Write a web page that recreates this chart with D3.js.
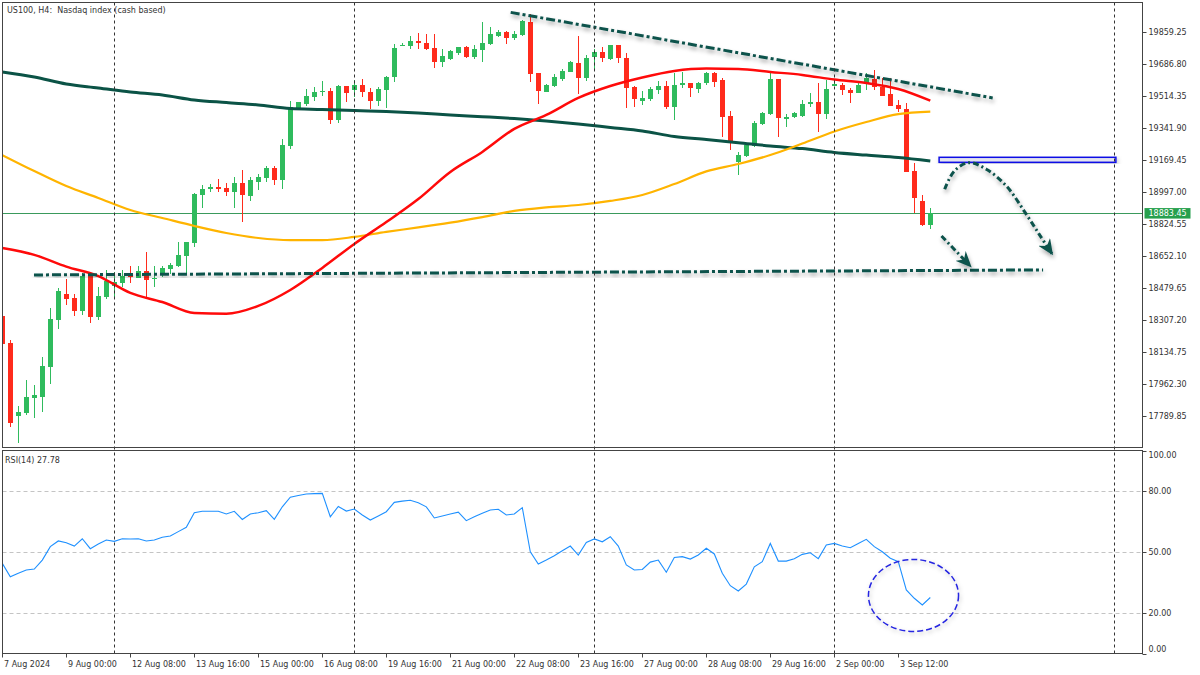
<!DOCTYPE html>
<html><head><meta charset="utf-8">
<script src="https://cdn.jsdelivr.net/npm/d3@7"></script>
<style>
body{margin:0;background:#fff}
svg{display:block}
text{font-family:"DejaVu Sans",sans-serif;font-size:8px;fill:#333;white-space:pre}
</style>
</head><body><svg id="c" width="1200" height="675"></svg>
<script>
// ---------- data ----------
const opens=[18329,18183,17792,17806,17888,17894,18055,18309,18447,18426,
18357,18546,18325,18433,18492,18508,18554,18535,18571,18530,
18551,18583,18597,18654,18724,18982,19012,19022,19018,18999,
19046,18977,19052,19074,19128,19062,19245,19448,19471,19511,
19534,19543,19385,19568,19547,19572,19536,19489,19547,19615,
19788,19785,19811,19800,19773,19699,19714,19746,19778,19725,
19762,19795,19838,19859,19827,19843,19915,19638,19538,19570,
19608,19645,19694,19611,19725,19752,19714,19789,19718,19564,
19487,19497,19545,19568,19453,19572,19583,19552,19583,19637,
19601,19406,19160,19193,19245,19364,19417,19604,19389,19400,
19406,19471,19484,19417,19570,19574,19547,19532,19577,19606,
19564,19525,19466,19444,19110,18948,18819];
const highs=[18345,18199,17844,17984,17957,18108,18370,18481,18527,18447,
18561,18555,18485,18577,18564,18577,18598,18598,18674,18598,
18598,18612,18726,18729,18990,19035,19040,19067,19044,19078,
19116,19076,19092,19139,19137,19283,19487,19484,19552,19561,
19597,19556,19572,19570,19601,19604,19556,19561,19620,19795,
19802,19839,19854,19850,19850,19768,19760,19780,19784,19789,
19913,19888,19872,19862,19865,19924,19955,19640,19577,19633,
19660,19703,19838,19737,19769,19780,19791,19791,19744,19566,
19541,19561,19595,19595,19637,19645,19585,19591,19645,19645,
19610,19435,19214,19263,19381,19430,19645,19606,19417,19430,
19493,19532,19583,19601,19601,19583,19556,19583,19637,19654,
19610,19610,19493,19475,19152,18981,18909];
const lows=[18167,17732,17646,17797,17781,17813,17963,18260,18390,18330,
18336,18291,18307,18422,18422,18487,18508,18532,18433,18487,
18537,18555,18595,18559,18702,18912,18999,18995,18977,18912,
18837,18950,19008,19052,19035,19013,19229,19439,19461,19489,
19516,19362,19370,19484,19511,19511,19444,19461,19448,19591,
19784,19768,19768,19762,19667,19672,19708,19735,19721,19714,
19699,19789,19834,19795,19816,19838,19591,19473,19536,19564,
19597,19642,19525,19597,19651,19696,19708,19691,19447,19453,
19466,19487,19527,19443,19385,19556,19511,19532,19574,19561,
19295,19223,19089,19187,19238,19358,19412,19292,19349,19394,
19400,19457,19322,19389,19568,19520,19475,19529,19547,19547,
19514,19460,19427,19103,18882,18815,18796];
const closes=[18180,17754,17810,17892,17903,18059,18313,18463,18422,18357,
18546,18325,18437,18517,18514,18544,18537,18571,18524,18535,
18587,18603,18658,18728,18986,19013,19022,19015,18999,19046,
18982,19063,19079,19128,19062,19250,19453,19482,19514,19536,
19543,19385,19568,19529,19572,19534,19489,19550,19618,19771,
19791,19811,19798,19768,19699,19730,19757,19778,19725,19768,
19800,19849,19859,19827,19849,19919,19633,19543,19574,19618,
19651,19696,19613,19719,19752,19718,19789,19718,19559,19497,
19502,19552,19568,19453,19574,19583,19556,19583,19637,19591,
19403,19273,19196,19250,19367,19421,19604,19397,19400,19421,
19471,19480,19417,19552,19577,19547,19532,19572,19610,19561,
19516,19462,19444,19106,18966,18819,18883.45];
const rsiValues=[44.6,38.0,39.7,41.3,41.8,46.2,52.8,55.6,54.7,53.1,
56.7,51.8,54.1,56.1,55.4,56.7,56.6,56.7,55.6,56.1,
57.4,58.0,60.2,62.3,69.5,70.2,70.2,70.2,68.9,70.2,
66.2,68.9,69.5,70.5,66.2,72.4,77.1,78.0,78.7,78.9,
79.0,67.5,72.6,70.3,71.3,68.4,65.9,67.9,70.0,74.6,
75.2,75.6,74.4,72.4,66.9,67.9,68.9,69.8,65.6,67.5,
69.2,70.8,71.2,68.4,68.9,72.0,50.3,44.3,46.2,48.3,
50.8,53.1,48.7,54.9,56.6,55.2,57.7,53.1,43.8,41.3,
41.6,45.2,46.2,40.2,47.5,47.9,46.7,48.7,52.0,49.2,
39.7,33.6,31.0,34.4,42.9,45.4,54.4,45.7,45.7,46.9,
49.0,49.8,46.9,53.6,54.4,53.1,52.3,54.4,56.4,52.8,
50.3,47.1,45.4,31.5,27.4,24.1,27.78];
// moving averages read at every 4th bar
const maIdx=[0,4,8,12,16,20,24,28,32,36,40,44,48,52,56,60,64,68,72,76,80,84,88,92,96,100,104,108,112,116];
const maSlow=[19644,19617,19579,19558,19536,19520,19493,19479,19466,19447,19442,19436,19431,19423,19412,19403,19393,19380,19364,19345,19326,19296,19280,19263,19245,19231,19210,19196,19183,19164];
const maRed=[18695,18658,18595,18544,18453,18404,18345,18341,18383,18469,18588,18717,18835,18959,19105,19213,19337,19412,19504,19568,19614,19649,19662,19660,19644,19628,19603,19584,19552,19489];
const maOrange=[19196,19110,19029,18965,18900,18857,18814,18776,18749,18738,18738,18755,18782,18806,18832,18862,18895,18914,18927,18949,18981,19040,19108,19148,19196,19258,19323,19374,19417,19430];
const priceTicks=[19859.25,19686.80,19514.35,19341.90,19169.45,18997.00,18824.55,18652.10,18479.65,18307.20,18134.75,17962.30,17789.85];
const rsiTicks=[100,80,50,20,0];
const rsiLevels=[80,50,20];
const timeLabels=["7 Aug 2024","9 Aug 00:00","12 Aug 08:00","13 Aug 16:00","15 Aug 00:00","16 Aug 08:00","19 Aug 16:00","21 Aug 00:00","22 Aug 08:00","23 Aug 16:00","27 Aug 00:00","28 Aug 08:00","29 Aug 16:00","2 Sep 00:00","3 Sep 12:00"];
const timeLabelIdx=[0,8,16,24,32,40,48,56,64,72,80,88,96,104,112];
const separatorIdx=[14,44,74,104,139];
const lastPrice=18883.45;
const rsiLast=27.78;
// drawn annotations (bar index, price)
const trendDown=[[63.55,19965],[123.8,19504]];
const supportLine=[[3.96,18550],[130.1,18577]];
const zoneIdx=[117.1,139.2];
const zonePrice=[19157,19184];
const curveArrow=[[117.8,19012],[119.0,19110],[120.8,19155],[123.0,19120],[125.5,19030],[127.8,18890],[129.6,18770],[131.2,18665]];
const straightArrow=[[117.4,18760],[121.0,18598]];
const rsiEllipseC=[113.9,28.8];
const rsiEllipseR=[5.63,17.7];

// ---------- layout ----------
const W=1200,H=675;
const L=2.5,R=1142.5,mTop=2.5,mBot=447.5,rTop=450.5,rBot=653.5;
const svg=d3.select('#c');
const x=d3.scaleLinear().domain([0,139]).range([2.3,1114.3]);
const y=d3.scaleLinear().domain([17789.85,19859.25]).range([416,32]);
const yr=d3.scaleLinear().domain([0,100]).range([654,450.7]);
const cx=i=>Math.round(x(i));

const defs=svg.append('defs');
defs.append('clipPath').attr('id','cm').append('rect').attr('x',L).attr('y',mTop).attr('width',R-L).attr('height',mBot-mTop);
defs.append('clipPath').attr('id','cr').append('rect').attr('x',L).attr('y',rTop).attr('width',R-L).attr('height',rBot-rTop);
const f=defs.append('filter').attr('id','sh').attr('x','-20%').attr('y','-50%').attr('width','140%').attr('height','200%');
f.append('feDropShadow').attr('dx',1).attr('dy',3).attr('stdDeviation',2).attr('flood-color','#000').attr('flood-opacity',0.35);
const f2=defs.append('filter').attr('id','gl').attr('x','-20%').attr('y','-20%').attr('width','140%').attr('height','140%');
f2.append('feDropShadow').attr('dx',1).attr('dy',2).attr('stdDeviation',2).attr('flood-color','#000').attr('flood-opacity',0.25);
const teal='#0d524c';
defs.append('marker').attr('id','ah').attr('viewBox','0 0 16 14').attr('markerWidth',16).attr('markerHeight',14)
 .attr('refX',14).attr('refY',7).attr('orient','auto').attr('markerUnits','userSpaceOnUse')
 .append('path').attr('d','M0,0 L16,7 L0,14 L5,7 Z').attr('fill',teal);

svg.append('rect').attr('width',W).attr('height',H).attr('fill','#fff');

// ---------- main panel ----------
const gm=svg.append('g').attr('clip-path','url(#cm)');
// separators
svg.append('g').selectAll('line').data(separatorIdx).join('line')
 .attr('x1',d=>cx(d)+0.5).attr('x2',d=>cx(d)+0.5).attr('y1',mTop).attr('y2',rBot)
 .attr('stroke','#333').attr('stroke-dasharray','3,3').attr('stroke-width',1);
// current price line
gm.append('line').attr('x1',L).attr('x2',R).attr('y1',Math.round(y(lastPrice))+0.5).attr('y2',Math.round(y(lastPrice))+0.5)
 .attr('stroke','#3a9a5c').attr('stroke-width',1);
// candles
const idx=d3.range(opens.length);
const up='#2fbb5d',dn='#ff2b1c';
const cg=gm.append('g').attr('shape-rendering','crispEdges');
cg.selectAll('line').data(idx).join('line')
 .attr('x1',i=>cx(i)+0.5).attr('x2',i=>cx(i)+0.5)
 .attr('y1',i=>y(highs[i])).attr('y2',i=>y(lows[i]))
 .attr('stroke',i=>closes[i]>=opens[i]?up:dn).attr('stroke-width',1);
cg.selectAll('rect').data(idx).join('rect')
 .attr('x',i=>cx(i)-2).attr('width',5)
 .attr('y',i=>y(Math.max(opens[i],closes[i])))
 .attr('height',i=>Math.max(1.2,Math.abs(y(opens[i])-y(closes[i]))))
 .attr('fill',i=>closes[i]>=opens[i]?up:dn);
// moving averages
const maLine=vals=>d3.line().x((d,k)=>x(maIdx[k])).y(d=>y(d)).curve(d3.curveMonotoneX)(vals);
gm.append('path').attr('d',maLine(maSlow)).attr('fill','none').attr('stroke','#0b5346').attr('stroke-width',3);
gm.append('path').attr('d',maLine(maOrange)).attr('fill','none').attr('stroke','#ffb400').attr('stroke-width',2.2);
gm.append('path').attr('d',maLine(maRed)).attr('fill','none').attr('stroke','#ff0a0a').attr('stroke-width',2.5);
// annotations
const pl=d3.line().x(d=>x(d[0])).y(d=>y(d[1]));
gm.append('path').attr('d',pl(trendDown)).attr('fill','none').attr('stroke',teal).attr('stroke-width',3)
 .attr('stroke-dasharray','9,3,3,3').attr('filter','url(#sh)');
gm.append('path').attr('d',pl(supportLine)).attr('fill','none').attr('stroke',teal).attr('stroke-width',3)
 .attr('stroke-dasharray','9,3,3,3').attr('filter','url(#sh)');
gm.append('rect').attr('x',x(zoneIdx[0])).attr('width',x(zoneIdx[1])-x(zoneIdx[0]))
 .attr('y',y(zonePrice[1])).attr('height',y(zonePrice[0])-y(zonePrice[1]))
 .attr('fill','#e4e4ee').attr('stroke','#1010e6').attr('stroke-width',1.5).attr('filter','url(#gl)');
gm.append('path').attr('d',d3.line().x(d=>x(d[0])).y(d=>y(d[1])).curve(d3.curveCatmullRom)(curveArrow))
 .attr('fill','none').attr('stroke',teal).attr('stroke-width',3).attr('stroke-dasharray','6,3,2,3')
 .attr('marker-end','url(#ah)').attr('filter','url(#sh)');
gm.append('path').attr('d',pl(straightArrow)).attr('fill','none').attr('stroke',teal).attr('stroke-width',3)
 .attr('stroke-dasharray','6,3,2,3').attr('marker-end','url(#ah)').attr('filter','url(#sh)');

// title
svg.append('text').attr('x',7).attr('y',13).text('US100, H4:  Nasdaq index (cash based)');

// ---------- RSI panel ----------
const gr=svg.append('g').attr('clip-path','url(#cr)');
gr.selectAll('line.lv').data(rsiLevels).join('line').attr('class','lv')
 .attr('x1',L).attr('x2',R).attr('y1',d=>Math.round(yr(d))+0.5).attr('y2',d=>Math.round(yr(d))+0.5)
 .attr('stroke','#c4c4c4').attr('stroke-dasharray','4,3');
gr.append('path').attr('d',d3.line().x((d,i)=>x(i)).y(d=>yr(d))(rsiValues))
 .attr('fill','none').attr('stroke','#1e90ff').attr('stroke-width',1.1);
gr.append('ellipse').attr('cx',x(rsiEllipseC[0])).attr('cy',yr(rsiEllipseC[1]))
 .attr('rx',x(rsiEllipseC[0]+rsiEllipseR[0])-x(rsiEllipseC[0]))
 .attr('ry',yr(0)-yr(rsiEllipseR[1]))
 .attr('fill','none').attr('stroke','#2525e0').attr('stroke-width',1.5).attr('stroke-dasharray','6,3').attr('filter','url(#gl)');
svg.append('text').attr('x',5).attr('y',463).text('RSI(14) '+rsiLast.toFixed(2));

// ---------- frames ----------
const fr=svg.append('g').attr('fill','none').attr('stroke','#444').attr('stroke-width',1).attr('shape-rendering','crispEdges');
fr.append('rect').attr('x',L).attr('y',mTop).attr('width',R-L).attr('height',mBot-mTop);
fr.append('rect').attr('x',L).attr('y',rTop).attr('width',R-L).attr('height',rBot-rTop);

// price axis
const pa=svg.append('g');
pa.selectAll('line').data(priceTicks).join('line').attr('x1',R).attr('x2',R+4)
 .attr('y1',d=>Math.round(y(d))+0.5).attr('y2',d=>Math.round(y(d))+0.5).attr('stroke','#444');
pa.selectAll('text').data(priceTicks).join('text').attr('x',R+6).attr('y',d=>y(d)).attr('dy','0.35em')
 .text(d=>d.toFixed(2));
// price tag
const ly=y(lastPrice);
svg.append('rect').attr('x',R+2).attr('y',ly-5).attr('width',46).attr('height',10.5).attr('fill','#27a04e');
svg.append('text').attr('x',R+6).attr('y',ly).attr('dy','0.37em').style('fill','#fff').text(lastPrice.toFixed(2));

// RSI axis
const ra=svg.append('g');
ra.selectAll('line').data(rsiTicks).join('line').attr('x1',R).attr('x2',R+4)
 .attr('y1',d=>Math.round(yr(d))+0.5).attr('y2',d=>Math.round(yr(d))+0.5).attr('stroke','#444');
ra.selectAll('text').data(rsiTicks).join('text').attr('x',R+6)
 .attr('y',d=>Math.min(649,Math.max(455.5,yr(d)))).attr('dy','0.35em').text(d=>d.toFixed(2));

// time axis
const ta=svg.append('g');
ta.selectAll('line').data(timeLabelIdx).join('line')
 .attr('x1',d=>cx(d)+0.5).attr('x2',d=>cx(d)+0.5).attr('y1',rBot).attr('y2',rBot+4).attr('stroke','#444');
ta.selectAll('text').data(timeLabels).join('text')
 .attr('x',(d,k)=>cx(timeLabelIdx[k])+2).attr('y',667).text(d=>d);
</script>
</body></html>
